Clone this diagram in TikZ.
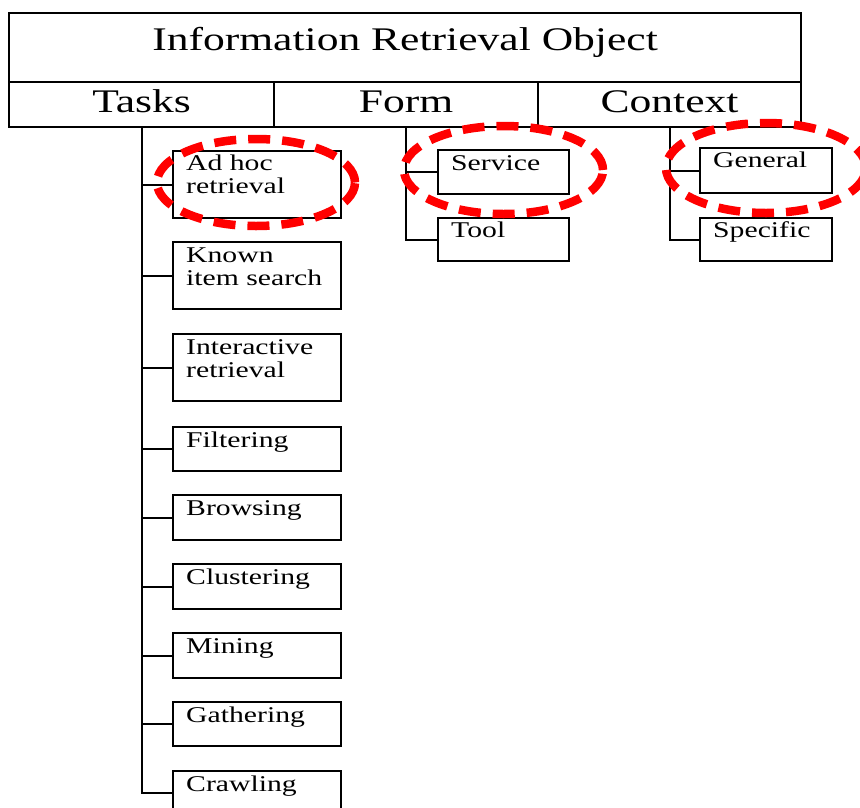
\documentclass[tikz,border=0pt]{standalone}
\usepackage{fontspec}
\setmainfont{Liberation Serif}[FakeStretch=1.32]

\begin{document}
\begin{tikzpicture}[x=1pt,y=-1pt,
  box/.style={draw,line width=2.1pt,anchor=north west,inner sep=0pt},
  big/.style={font=\fontsize{33}{40}\selectfont,text height=22pt},
  lbl/.style={anchor=base west,inner sep=0pt,align=left,font=\fontsize{22.5}{23.5}\selectfont},
  line/.style={line width=2.1pt},
  ring/.style={red,line width=8.5pt,dash pattern=on 22pt off 12pt}]
 \useasboundingbox (0,0) rectangle (860,807);

 \node[box,big,text depth=17pt,minimum width=792pt,minimum height=69pt] (obj) at (8,12) {Information Retrieval Object}; %見出し
 \node[box,big,text depth=7pt,minimum width=265pt,minimum height=45pt] (tasks) at (8,81) {Tasks};
 \node[box,big,text depth=7pt,minimum width=264pt,minimum height=45pt] (form) at (273,81) {Form};
 \node[box,big,text depth=7pt,minimum width=263pt,minimum height=45pt] (context) at (537,81) {Context};

 %Tasks の枝 (\b = 最後の行のベースライン)
 \foreach \n/\t/\h/\b/\s in {adhoc/150/67/43.5/{Ad hoc\\retrieval},known/241/67/44.5/{Known\\item search},
     interactive/333/67/44.5/{Interactive\\retrieval},filtering/426/44/21/Filtering,browsing/494/45/21/Browsing,
     clustering/563/45/21/Clustering,mining/632/45/21/Mining,gathering/701/44/21/Gathering,crawling/770/44/21.5/Crawling}
 {
   \node[box,minimum width=168pt,minimum height=\h pt] (\n) at (172,\t) {};
   \node[lbl] (\n-txt) at ([shift={(14,\b)}]\n.north west) {\s};
   \draw[line] (tasks.south |- \n.west) -- (\n.west);
 }
 \draw[line] (tasks.south) |- (crawling.west);

 %Form の枝
 \node[box,minimum width=131pt,minimum height=44pt] (service) at (437,149) {};
 \node[box,minimum width=131pt,minimum height=43pt] (tool) at (437,217) {};
 \node[lbl] (service-txt) at ([shift={(14,21)}]service.north west) {Service};
 \node[lbl] (tool-txt) at ([shift={(14,20)}]tool.north west) {Tool};
 \draw[line] (form.south) |- (tool.west);
 \draw[line] (form.south |- service.west) -- (service.west);

 %Context の枝
 \node[box,minimum width=132pt,minimum height=45pt] (general) at (699,147) {};
 \node[box,minimum width=132pt,minimum height=43pt] (specific) at (699,217) {};
 \node[lbl] (general-txt) at ([shift={(14,20)}]general.north west) {General};
 \node[lbl] (specific-txt) at ([shift={(14,20)}]specific.north west) {Specific};
 \draw[line] (context.south) |- (specific.west);
 \draw[line] (context.south |- general.west) -- (general.west);

 %赤い点線の楕円
 \draw[ring] (256,182.5) ellipse [x radius=99pt,y radius=43.5pt];
 \draw[ring] (503.5,170) ellipse [x radius=99.5pt,y radius=44pt];
 \draw[ring] (766,168) ellipse [x radius=100pt,y radius=45pt];
\end{tikzpicture}
\end{document}
